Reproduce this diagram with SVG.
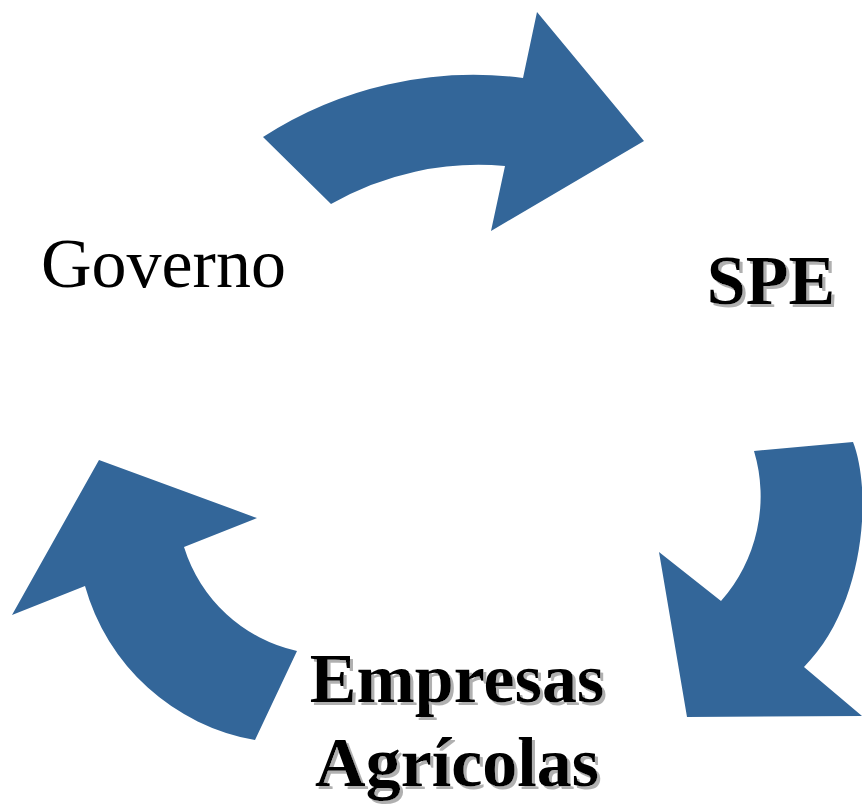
<svg xmlns="http://www.w3.org/2000/svg" width="862" height="804" viewBox="0 0 862 804">
  <defs>
    <filter id="txtShadow" x="-10%" y="-20%" width="130%" height="150%">
      <feOffset in="SourceAlpha" dx="3" dy="3" result="off"/>
      <feFlood flood-color="#b0b0b0" result="col"/>
      <feComposite in="col" in2="off" operator="in" result="shadow"/>
      <feMerge>
        <feMergeNode in="shadow"/>
        <feMergeNode in="SourceGraphic"/>
      </feMerge>
    </filter>
  </defs>
  <style>
    .arrow { fill: #336699; stroke: none; }
    .lbl { font-family: "Liberation Serif", "Times New Roman", serif; font-size: 70px; fill: #000000; }
    .bold { font-weight: bold; filter: url(#txtShadow); }
  </style>
  <rect x="0" y="0" width="862" height="804" fill="#ffffff"/>
  <g id="connectors">
    <path class="arrow" d="M 263,137 A 388 388 0 0 1 523,78 L 537,12 L 644,141 L 491,231 L 505,166 A 297 297 0 0 0 331,204 Z"/>
    <path class="arrow" d="M 754,451 L 853,442 C 872,490 866,605 804,667 L 862,716 L 687,717 L 659,552 L 721,601 A 158 158 0 0 0 754,451 Z"/>
    <path class="arrow" d="M 99,460 L 257,518 L 184,547 A 153 153 0 0 0 297,651 L 255,740 A 215 215 0 0 1 85,586 L 12,615 Z"/>
  </g>
  <g id="node-governo">
    <text class="lbl" x="41" y="287" font-size="71">Governo</text>
  </g>
  <g id="node-spe">
    <text class="lbl bold" x="771" y="304" text-anchor="middle">SPE</text>
  </g>
  <g id="node-empresas">
    <text class="lbl bold" text-anchor="middle"><tspan x="457" y="702">Empresas</tspan><tspan x="457" y="786">Agrícolas</tspan></text>
  </g>
</svg>
